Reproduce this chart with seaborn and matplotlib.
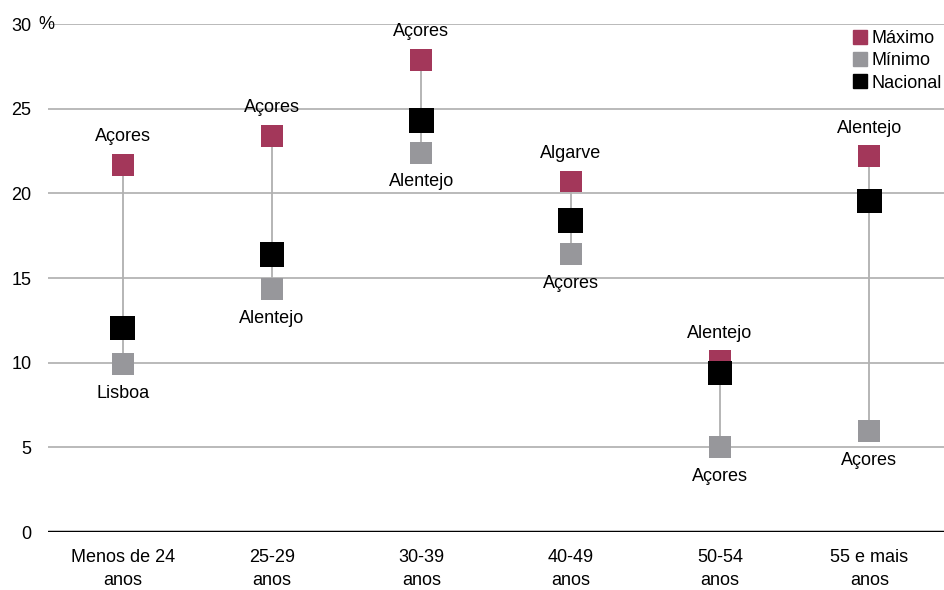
import pandas as pd
import matplotlib.pyplot as plt
import seaborn as sns
from matplotlib.lines import Line2D

# === Data ===
idades = ['Menos de 24\nanos', '25-29\nanos', '30-39\nanos', '40-49\nanos', '50-54\nanos', '55 e mais\nanos']
maximo = [21.7, 23.4, 27.9, 20.7, 10.1, 22.2]
minimo = [9.9, 14.35, 22.4, 16.4, 5.0, 5.95]
nacional = [12.05, 16.4, 24.3, 18.4, 9.4, 19.55]
regiao_max = ['Açores', 'Açores', 'Açores', 'Algarve', 'Alentejo', 'Alentejo']
regiao_min = ['Lisboa', 'Alentejo', 'Alentejo', 'Açores', 'Açores', 'Açores']

cores = {'Máximo': '#a3375a', 'Mínimo': '#97979b', 'Nacional': '#000000'}

sns.set_theme(style="white")
plt.rcParams['font.family'] = ['Liberation Sans', 'DejaVu Sans']
plt.rcParams['text.color'] = 'black'
plt.rcParams['xtick.color'] = 'black'
plt.rcParams['ytick.color'] = 'black'

df = pd.DataFrame({
    'idade': idades * 3,
    'valor': maximo + minimo + nacional,
    'serie': ['Máximo'] * 6 + ['Mínimo'] * 6 + ['Nacional'] * 6,
})

fig = plt.figure(figsize=(9.44, 5.9), dpi=100)
ax = fig.add_axes([0.0508, 0.0983, 0.9492, 0.861])

# gridlines
for v in [5, 10, 15, 20, 25, 30]:
    ax.axhline(v, color='#b4b4b4', lw=1.3, zorder=0)
ax.axhline(0, color='black', lw=2.5, zorder=1)

# range lines
xs = range(len(idades))
ax.vlines(xs, minimo, maximo, color='#b0b0b0', lw=1.3, zorder=2)

sns.scatterplot(data=df, x='idade', y='valor', hue='serie', size='serie',
                sizes={'Máximo': 250, 'Mínimo': 250, 'Nacional': 310},
                palette=cores, marker='s', linewidth=0, legend=False,
                ax=ax, zorder=3)

# region labels
for i in xs:
    ax.annotate(regiao_max[i], (i, maximo[i]), xytext=(0, 20), textcoords='offset points',
                ha='center', va='center', fontsize=13)
    ax.annotate(regiao_min[i], (i, minimo[i]), xytext=(0, -21), textcoords='offset points',
                ha='center', va='center', fontsize=13)

ax.set_xlim(-0.5, 5.5)
ax.set_ylim(0, 30)
ax.set_yticks([0, 5, 10, 15, 20, 25, 30])
ax.set_yticklabels(['0', '5', '10', '15', '20', '25', '30'], fontsize=13)
ax.set_xticks(list(xs))
ax.set_xticklabels(idades, fontsize=13, linespacing=1.45)
ax.tick_params(axis='y', length=0, pad=12)
ax.tick_params(axis='x', length=0, pad=12)
ax.set_xlabel('')
ax.set_ylabel('')
for s in ax.spines.values():
    s.set_visible(False)
fig.text(0.041, 0.959, '%', fontsize=13, va='center', ha='left')

handles = [Line2D([], [], marker='s', ls='', color=cores[k], markersize=10.5) for k in cores]
leg = ax.legend(handles, list(cores.keys()), loc='upper right', bbox_to_anchor=(1.0, 0.992),
                frameon=False, fontsize=13, handletextpad=0.15, labelspacing=0.3,
                borderaxespad=0, borderpad=0.1, handlelength=1.0)

plt.savefig('out.png', dpi=100)
